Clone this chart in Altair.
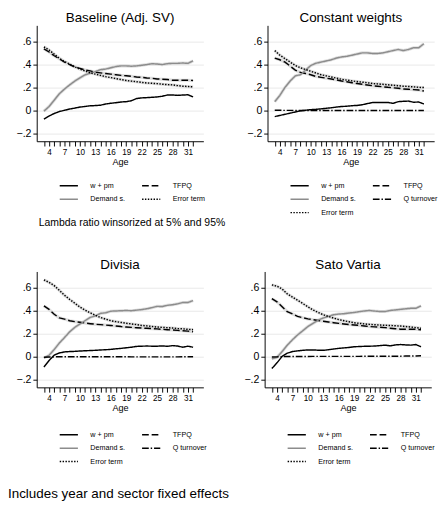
import altair as alt
import pandas as pd

FONT = "Liberation Sans"
W, H = 174, 121

AGE = list(range(3, 33))
SERIES = ["w + pm", "TFPQ", "Demand s.", "Q turnover", "Error term"]
COLORS = {"w + pm": "#000000", "TFPQ": "#000000", "Demand s.": "#8c8c8c",
          "Q turnover": "#000000", "Error term": "#000000"}
DASHES = {"w + pm": [1, 0], "TFPQ": [7, 3], "Demand s.": [1, 0],
          "Q turnover": [7, 2, 1.5, 2], "Error term": [1.5, 1.5]}

# Baseline (Adj. SV)
BASE_WPM = [-0.077, -0.05, -0.028, -0.011, 0.0, 0.011, 0.019, 0.028, 0.033, 0.039,
            0.041, 0.044, 0.055, 0.061, 0.066, 0.072, 0.075, 0.083, 0.102, 0.108,
            0.11, 0.113, 0.116, 0.122, 0.133, 0.133, 0.13, 0.133, 0.135, 0.116]
BASE_DEM = [-0.008, 0.033, 0.088, 0.144, 0.185, 0.221, 0.254, 0.282, 0.309, 0.323,
            0.337, 0.354, 0.359, 0.37, 0.381, 0.387, 0.387, 0.384, 0.387, 0.392,
            0.398, 0.406, 0.403, 0.398, 0.406, 0.409, 0.409, 0.412, 0.409, 0.431]
BASE_TFPQ = [0.536, 0.508, 0.475, 0.448, 0.42, 0.398, 0.378, 0.365, 0.351, 0.343,
             0.331, 0.326, 0.32, 0.315, 0.309, 0.304, 0.301, 0.296, 0.29, 0.287,
             0.282, 0.279, 0.273, 0.271, 0.268, 0.262, 0.262, 0.262, 0.262, 0.26]
BASE_ERR = [0.552, 0.525, 0.489, 0.453, 0.425, 0.403, 0.378, 0.359, 0.343, 0.326,
            0.315, 0.304, 0.293, 0.285, 0.276, 0.268, 0.26, 0.254, 0.249, 0.243,
            0.238, 0.235, 0.232, 0.227, 0.224, 0.221, 0.215, 0.21, 0.207, 0.204]

# Constant weights
CW_WPM = [-0.055, -0.045, -0.035, -0.025, -0.015, -0.005, 0.0, 0.005, 0.008, 0.012,
          0.017, 0.022, 0.028, 0.033, 0.035, 0.04, 0.042, 0.048, 0.058, 0.067,
          0.067, 0.067, 0.068, 0.06, 0.075, 0.078, 0.08, 0.07, 0.072, 0.055]
CW_DEM = [0.075, 0.13, 0.2, 0.255, 0.3, 0.31, 0.35, 0.39, 0.41, 0.42,
          0.43, 0.44, 0.455, 0.465, 0.47, 0.48, 0.49, 0.5, 0.5, 0.495,
          0.495, 0.5, 0.51, 0.52, 0.53, 0.52, 0.53, 0.545, 0.545, 0.58]
CW_TFPQ = [0.455, 0.44, 0.42, 0.385, 0.35, 0.33, 0.32, 0.31, 0.295, 0.287,
           0.28, 0.272, 0.265, 0.255, 0.248, 0.24, 0.233, 0.227, 0.22, 0.214,
           0.21, 0.205, 0.2, 0.196, 0.192, 0.186, 0.183, 0.18, 0.176, 0.168]
CW_QT = [0.0, 0.0, -0.001, -0.001, -0.002, -0.002, -0.002, -0.002, -0.002, -0.002,
         -0.002, -0.002, -0.002, -0.002, -0.002, -0.002, -0.002, -0.002, -0.002, -0.002,
         -0.002, -0.002, -0.002, -0.002, -0.002, -0.002, -0.002, -0.002, -0.002, -0.002]
CW_ERR = [0.52, 0.48, 0.45, 0.42, 0.39, 0.37, 0.355, 0.34, 0.325, 0.31,
          0.3, 0.29, 0.28, 0.27, 0.263, 0.256, 0.25, 0.245, 0.24, 0.233,
          0.23, 0.226, 0.222, 0.218, 0.214, 0.21, 0.207, 0.204, 0.2, 0.198]

# Divisia
DIV_WPM = [-0.092, -0.036, 0.011, 0.03, 0.039, 0.042, 0.044, 0.047, 0.049, 0.051,
           0.053, 0.056, 0.058, 0.061, 0.066, 0.07, 0.075, 0.08, 0.087, 0.089,
           0.09, 0.089, 0.089, 0.091, 0.088, 0.094, 0.09, 0.08, 0.089, 0.08]
DIV_DEM = [-0.014, 0.01, 0.06, 0.117, 0.164, 0.214, 0.253, 0.283, 0.311, 0.34,
           0.353, 0.375, 0.38, 0.394, 0.396, 0.398, 0.4, 0.398, 0.403, 0.408,
           0.415, 0.425, 0.436, 0.435, 0.445, 0.45, 0.458, 0.47, 0.47, 0.486]
DIV_TFPQ = [0.44, 0.41, 0.367, 0.336, 0.325, 0.311, 0.303, 0.297, 0.291, 0.285,
            0.28, 0.277, 0.273, 0.27, 0.265, 0.26, 0.256, 0.253, 0.25, 0.247,
            0.245, 0.242, 0.24, 0.236, 0.233, 0.23, 0.227, 0.224, 0.22, 0.215]
DIV_QT = [-0.008, -0.006, -0.004, -0.003, -0.003, -0.003, -0.003, -0.003, -0.003, -0.003,
          -0.003, -0.003, -0.003, -0.003, -0.003, -0.003, -0.003, -0.004, -0.004, -0.004,
          -0.004, -0.004, -0.004, -0.004, -0.004, -0.004, -0.004, -0.003, -0.003, -0.003]
DIV_ERR = [0.667, 0.645, 0.617, 0.575, 0.533, 0.497, 0.464, 0.43, 0.403, 0.38,
           0.358, 0.339, 0.325, 0.311, 0.303, 0.296, 0.289, 0.283, 0.277, 0.27,
           0.266, 0.261, 0.256, 0.253, 0.25, 0.247, 0.243, 0.24, 0.236, 0.233]

# Sato Vartia
SV_WPM = [-0.106, -0.056, 0.0, 0.028, 0.042, 0.048, 0.053, 0.056, 0.056, 0.054,
          0.053, 0.058, 0.064, 0.07, 0.074, 0.078, 0.084, 0.086, 0.088, 0.089,
          0.09, 0.094, 0.098, 0.092, 0.1, 0.103, 0.1, 0.098, 0.103, 0.084]
SV_DEM = [-0.02, -0.008, 0.042, 0.098, 0.145, 0.187, 0.223, 0.26, 0.288, 0.316,
          0.335, 0.349, 0.363, 0.369, 0.372, 0.378, 0.383, 0.39, 0.396, 0.4,
          0.395, 0.391, 0.391, 0.4, 0.405, 0.41, 0.415, 0.419, 0.419, 0.44]
SV_TFPQ = [0.503, 0.475, 0.433, 0.39, 0.371, 0.349, 0.337, 0.327, 0.32, 0.313,
           0.307, 0.3, 0.294, 0.288, 0.283, 0.278, 0.274, 0.27, 0.265, 0.26,
           0.257, 0.254, 0.251, 0.246, 0.241, 0.237, 0.237, 0.237, 0.237, 0.233]
SV_QT = [-0.006, -0.004, -0.002, -0.001, -0.001, -0.001, -0.001, -0.001, 0.0, 0.0,
         0.0, 0.0, 0.0, 0.0, 0.0, 0.0, 0.0, 0.0, 0.001, 0.001,
         0.001, 0.001, 0.001, 0.002, 0.002, 0.002, 0.003, 0.003, 0.004, 0.005]
SV_ERR = [0.623, 0.612, 0.587, 0.545, 0.517, 0.489, 0.461, 0.433, 0.405, 0.383,
          0.363, 0.348, 0.334, 0.321, 0.311, 0.302, 0.293, 0.288, 0.283, 0.279,
          0.276, 0.273, 0.271, 0.269, 0.267, 0.265, 0.26, 0.256, 0.251, 0.245]

NOTE_TOP = "Lambda ratio winsorized at 5% and 95%"
NOTE_BOTTOM = "Includes year and sector fixed effects"

Y_TICKS = [-0.2, 0, 0.2, 0.4, 0.6]


def panel(title, series, leg_y):
    names = [n for n in SERIES if n in series]
    df = pd.DataFrame([{"age": a, "series": n, "val": v}
                       for n in names for a, v in zip(AGE, series[n])])
    x = alt.X("age:Q", scale=alt.Scale(domain=[1.6, 34], nice=False, zero=False),
              axis=alt.Axis(values=AGE, title="Age", grid=False, tickSize=5,
                            labelExpr="(datum.value - 4) % 3 == 0 ? datum.label : ''",
                            labelFontSize=8.5, titleFontSize=9.5, titlePadding=1,
                            labelPadding=2, labelFlush=False))
    y = alt.Y("val:Q", scale=alt.Scale(domain=[-0.27, 0.74], nice=False, zero=False),
              axis=alt.Axis(values=Y_TICKS, title=None, grid=True, tickSize=4,
                            labelExpr="datum.value == 0 ? '0' : replace(format(datum.value, '.1f'), '0.', '.')",
                            labelFontSize=11, labelPadding=2))
    leg = alt.Legend(title=None, orient="none", legendX=23, legendY=leg_y, columns=2,
                     direction="horizontal", symbolType="stroke", symbolSize=361,
                     symbolStrokeWidth=1.5, labelFontSize=7.5, columnPadding=14,
                     rowPadding=-5, labelOffset=12)
    halo = alt.Chart(df).transform_filter(
        alt.FieldOneOfPredicate(field="series", oneOf=["TFPQ", "Error term", "Demand s."])
    ).mark_line(color="#dedede", strokeWidth=3.2).encode(x=x, y=y, detail="series:N")
    lines = alt.Chart(df).mark_line(strokeWidth=1.5).encode(
        x=x, y=y,
        color=alt.Color("series:N", legend=leg,
                        scale=alt.Scale(domain=names, range=[COLORS[n] for n in names])),
        strokeDash=alt.StrokeDash("series:N", legend=leg,
                                  scale=alt.Scale(domain=names, range=[DASHES[n] for n in names])),
    )
    return alt.layer(halo, lines).properties(
        width=W, height=H,
        title=alt.TitleParams(title, fontSize=14, font=FONT, fontWeight="normal", offset=0),
    )


def note(text, size, dx, w):
    return alt.Chart(pd.DataFrame({"t": [text]})).mark_text(
        align="left", baseline="middle", fontSize=size, font=FONT
    ).encode(text="t:N", x=alt.value(dx), y=alt.value(5)).properties(width=w, height=10)


p1 = panel("Baseline (Adj. SV)", {"w + pm": BASE_WPM, "TFPQ": BASE_TFPQ,
                                  "Demand s.": BASE_DEM, "Error term": BASE_ERR}, 157)
p2 = panel("Constant weights", {"w + pm": CW_WPM, "TFPQ": CW_TFPQ, "Demand s.": CW_DEM,
                                "Q turnover": CW_QT, "Error term": CW_ERR}, 157)
p3 = panel("Divisia", {"w + pm": DIV_WPM, "TFPQ": DIV_TFPQ, "Demand s.": DIV_DEM,
                       "Q turnover": DIV_QT, "Error term": DIV_ERR}, 160)
p4 = panel("Sato Vartia", {"w + pm": SV_WPM, "TFPQ": SV_TFPQ, "Demand s.": SV_DEM,
                           "Q turnover": SV_QT, "Error term": SV_ERR}, 160)

ind = dict(color="independent", strokeDash="independent")
left_top = alt.vconcat(p1, note(NOTE_TOP, 10.9, 2, W), spacing=15).resolve_scale(**ind)
row1 = alt.hconcat(left_top, p2, spacing=22).resolve_scale(**ind)
row2 = alt.hconcat(p3, p4, spacing=38).resolve_scale(**ind)
bottom = alt.vconcat(row2, note(NOTE_BOTTOM, 14, -30, 300), spacing=24).resolve_scale(**ind)

chart = alt.vconcat(row1, bottom, spacing=32).resolve_scale(**ind).properties(
    padding={"left": 0, "top": -7, "right": 0, "bottom": 0}
).configure(font=FONT).configure_view(stroke=None).configure_title(
    fontWeight="normal", font=FONT, color="#000000"
).configure_axis(
    domainColor="#000000", tickColor="#000000", labelColor="#000000", titleColor="#000000",
    gridColor="#e8e8e8", labelFont=FONT, titleFont=FONT, titleFontWeight="normal",
).configure_legend(labelFont=FONT, labelColor="#000000")

chart.save("out.html", embed_options={"renderer": "svg", "actions": False})
